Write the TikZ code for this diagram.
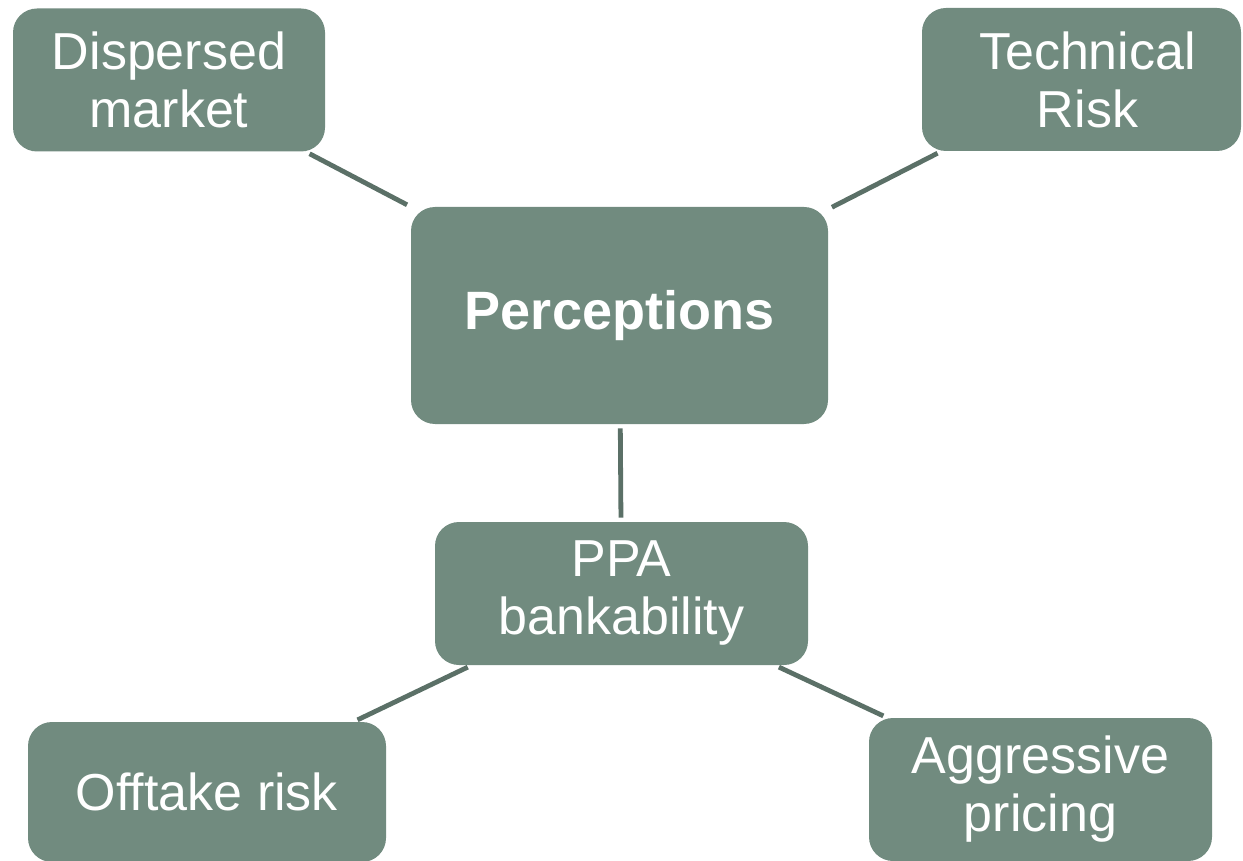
\documentclass[tikz,border=0pt]{standalone}
\usepackage{fontspec}
\setmainfont{Liberation Sans}
\definecolor{boxfill}{HTML}{718B7F}
\definecolor{linecol}{HTML}{5B7067}
\begin{document}
\begin{tikzpicture}[x=0.5pt,y=-0.5pt,
  box/.style={draw=none,fill=boxfill,rounded corners=12pt,inner sep=0pt,
    text=white,align=center,font=\fontsize{26}{29}\selectfont},
  conn/.style={draw=linecol,line width=2.4pt,shorten <=2pt,shorten >=2pt}]
\useasboundingbox (0,0) rectangle (1243,861);
\node[box,minimum width=156pt,minimum height=71.5pt] (disp) at (169,80) {Dispersed\\market};
\node[box,minimum width=159.5pt,minimum height=71.5pt] (tech) at (1081.5,79.5) {\hspace*{6pt}Technical\\\hspace*{6pt}Risk};
\node[box,minimum width=208.5pt,minimum height=108.5pt,font=\fontsize{27}{30}\selectfont\bfseries] (perc) at (619.5,315.5) {Perceptions};
\node[box,minimum width=186.5pt,minimum height=71.5pt] (ppa) at (621.5,593.5) {PPA\\bankability};
\node[box,minimum width=179pt,minimum height=70pt] (off) at (207,792) {Offtake risk};
\node[box,minimum width=171.5pt,minimum height=71.5pt] (agg) at (1040.5,789.5) {Aggressive\\pricing};
\draw[conn] (disp) -- (perc);
\draw[conn] (tech) -- (perc);
\draw[conn] (perc) -- (ppa);
\draw[conn] (ppa) -- (off);
\draw[conn] (ppa) -- (agg);
\end{tikzpicture}
\end{document}
